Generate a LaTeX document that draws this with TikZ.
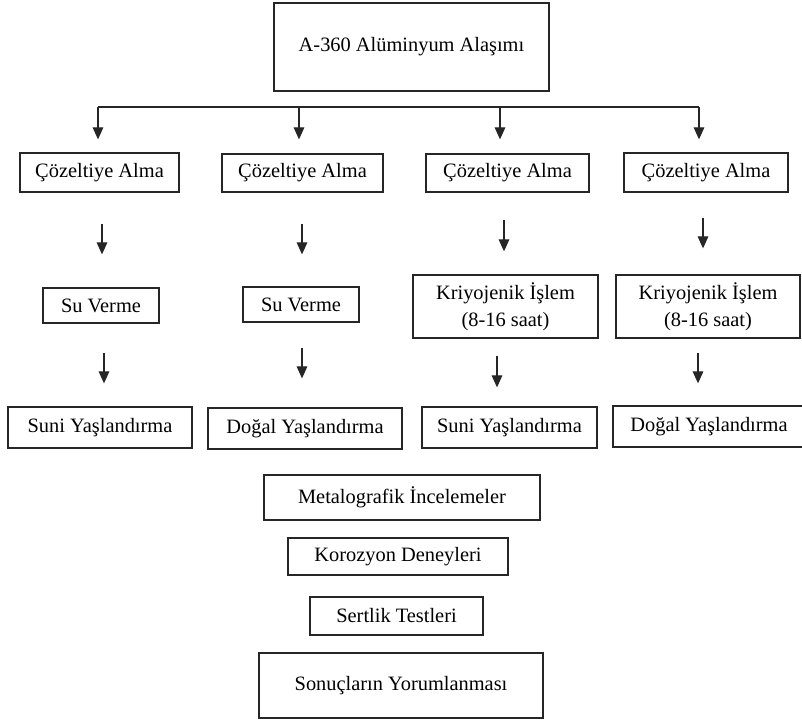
\documentclass[tikz,border=0pt]{standalone}
\usepackage{fontspec}
\setmainfont{Liberation Serif}
\usepackage{tikz}
\usetikzlibrary{arrows.meta}
\usetikzlibrary{positioning}

\newdimen\pxu
\pxu=0.75pt

\tikzset{
  procbox/.style={draw=black!85, line width=1pt, inner sep=0pt, align=center,
    font=\fontsize{15.3pt}{20.3pt}\selectfont},
  arr/.style={draw=black!85, line width=0.8pt, -{Triangle[width=8pt,length=9pt]}},
  bar/.style={draw=black!85, line width=0.8pt}
}

\begin{document}
\begin{tikzpicture}[x=0.75pt,y=-0.75pt]
  \useasboundingbox (0,0) rectangle (802,722);

  %Shape: Rectangle [alloy]
  \node[procbox, minimum width=275\pxu, minimum height=88\pxu] (alloy) at (411.5,47) {A-360 Alüminyum Alaşımı};

  %Shape: Rectangle [row 1]
  \node[procbox, minimum width=159\pxu, minimum height=39\pxu] (coz1) at (99.5,172.5) {Çözeltiye Alma};
  \node[procbox, minimum width=161\pxu, minimum height=38\pxu] (coz2) at (302.5,173) {Çözeltiye Alma};
  \node[procbox, minimum width=163\pxu, minimum height=38\pxu] (coz3) at (507.5,173) {Çözeltiye Alma};
  \node[procbox, minimum width=164\pxu, minimum height=39\pxu] (coz4) at (706,172.5) {Çözeltiye Alma};

  %Shape: Rectangle [row 2]
  \node[procbox, minimum width=116\pxu, minimum height=35\pxu] (su1) at (101,305.5) {Su Verme};
  \node[procbox, minimum width=116\pxu, minimum height=35\pxu] (su2) at (301,304.5) {Su Verme};
  \node[procbox, minimum width=185\pxu, minimum height=63\pxu] (kri1) at (505.5,306.5) {Kriyojenik İşlem\\(8-16 saat)};
  \node[procbox, minimum width=184\pxu, minimum height=63\pxu] (kri2) at (708,306.5) {Kriyojenik İşlem\\(8-16 saat)};

  %Shape: Rectangle [row 3]
  \node[procbox, minimum width=184\pxu, minimum height=41\pxu] (yas1) at (100,427.5) {Suni Yaşlandırma};
  \node[procbox, minimum width=194\pxu, minimum height=41\pxu] (yas2) at (305,428.5) {Doğal Yaşlandırma};
  \node[procbox, minimum width=175\pxu, minimum height=41\pxu] (yas3) at (509.5,427.5) {Suni Yaşlandırma};
  \node[procbox, minimum width=192\pxu, minimum height=41\pxu] (yas4) at (709,426.5) {Doğal Yaşlandırma};

  %Shape: Rectangle [tests]
  \node[procbox, minimum width=276\pxu, minimum height=45\pxu] (metal) at (402,497.5) {Metalografik İncelemeler};
  \node[procbox, minimum width=220\pxu, minimum height=37\pxu] (koroz) at (398,556.5) {Korozyon Deneyleri};
  \node[procbox, minimum width=173\pxu, minimum height=38\pxu] (sert) at (396.5,616) {Sertlik Testleri};
  \node[procbox, minimum width=284\pxu, minimum height=65\pxu] (sonuc) at (401,685.5) {Sonuçların Yorumlanması};

  %Straight Lines [branch bar]
  \coordinate (barL) at (98,107);
  \coordinate (barR) at (699,107);
  \draw[bar] (barL) -- (barR);
  \draw[arr] (barL) -- ([shift={(-1.5,-13)}]coz1.north);
  \draw[arr] ([shift={(-3.5,-46)}]coz2.north) -- ([shift={(-3.5,-14)}]coz2.north);
  \draw[arr] ([shift={(-7.5,-46)}]coz3.north) -- ([shift={(-7.5,-14)}]coz3.north);
  \draw[arr] (barR) -- ([shift={(-7,-13)}]coz4.north);

  %Straight Lines [row 1 to row 2]
  \draw[arr] ([shift={(2.5,31)}]coz1.south) -- ([shift={(1,-33)}]su1.north);
  \draw[arr] ([shift={(-0.5,31)}]coz2.south) -- ([shift={(1,-32)}]su2.north);
  \draw[arr] ([shift={(-3.5,27)}]coz3.south) -- ([shift={(-1.5,-23)}]kri1.north);
  \draw[arr] ([shift={(-3,25)}]coz4.south) -- ([shift={(-5,-26)}]kri2.north);

  %Straight Lines [row 2 to row 3]
  \draw[arr] ([shift={(3,29)}]su1.south) -- ([shift={(4,-23)}]yas1.north);
  \draw[arr] ([shift={(1,25)}]su2.south) -- ([shift={(-3,-29)}]yas2.north);
  \draw[arr] ([shift={(-8.5,17)}]kri1.south) -- ([shift={(-12.5,-19)}]yas3.north);
  \draw[arr] ([shift={(-10,14)}]kri2.south) -- ([shift={(-11,-22)}]yas4.north);

\end{tikzpicture}
\end{document}
